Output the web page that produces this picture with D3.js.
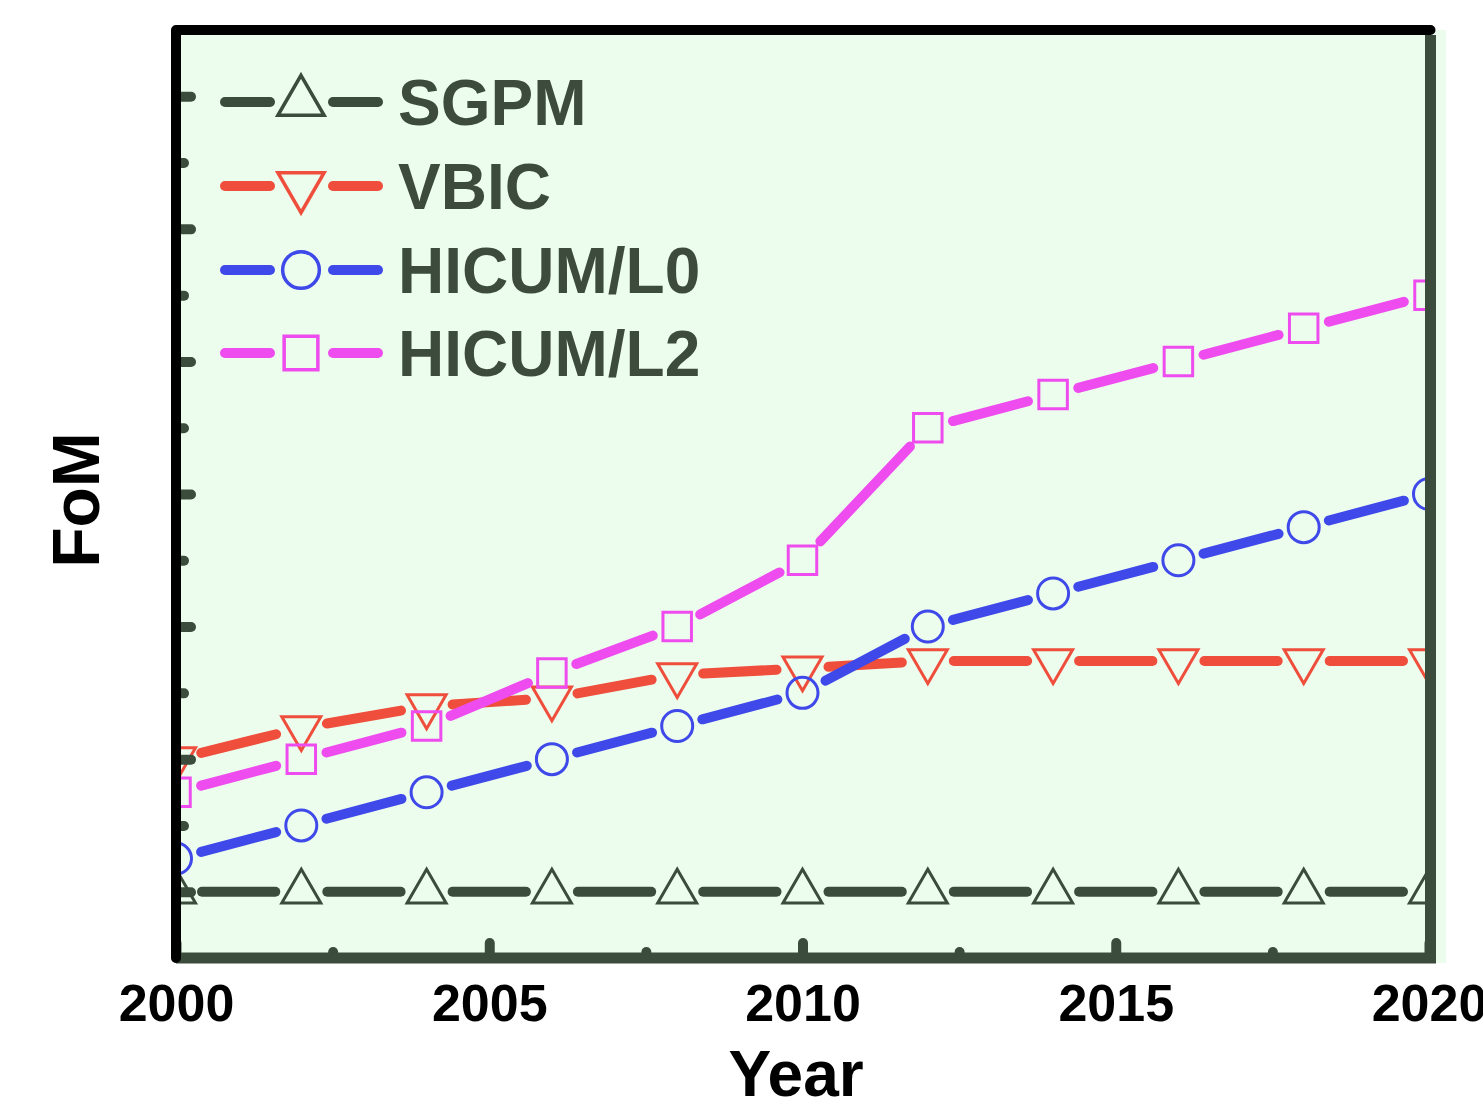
<!DOCTYPE html>
<html>
<head>
<meta charset="utf-8">
<script src="https://cdn.jsdelivr.net/npm/d3@7"></script>
<style>
  body { margin: 0; background: #fff; }
  text { font-family: "Liberation Sans", Arial, sans-serif; font-weight: bold; }
</style>
</head>
<body>
<div id="chart"></div>
<script>
// data (y in axis units, no labels shown)
const years    = [2000, 2002, 2004, 2006, 2008, 2010, 2012, 2014, 2016, 2018, 2020];
const sgpm     = [1, 1, 1, 1, 1, 1, 1, 1, 1, 1, 1];
const vbic     = [3.0, 3.47, 3.8, 3.92, 4.27, 4.37, 4.48, 4.48, 4.48, 4.48, 4.48];
const hicumL0  = [1.5, 2, 2.5, 3, 3.5, 4, 5, 5.5, 6, 6.5, 7];
const hicumL2  = [2.5, 3, 3.5, 4.3, 5, 6, 8, 8.5, 9, 9.5, 10];
const seriesNames = ["SGPM", "VBIC", "HICUM/L0", "HICUM/L2"];
const xTicks      = [2000, 2005, 2010, 2015, 2020];
const xMinorTicks = [2002.5, 2007.5, 2012.5, 2017.5];
const yMajorTicks = [1, 3, 5, 7, 9, 11, 13];
const yMinorTicks = [2, 4, 6, 8, 10, 12];

const series = [
  {name: seriesNames[0], values: sgpm,    color: "#3c4c3c", shape: "up"},
  {name: seriesNames[1], values: vbic,    color: "#ef4e3c", shape: "down"},
  {name: seriesNames[2], values: hicumL0, color: "#3f49ea", shape: "circle"},
  {name: seriesNames[3], values: hicumL2, color: "#ee4cee", shape: "square"}
];

const W = 1483, H = 1099;
const pLeft = 176, pRight = 1430, pTop = 30, pBottom = 958;
const frameGreen = "#3c4c3c";

const svg = d3.select("#chart").append("svg")
    .attr("width", W)
    .attr("height", H);

const x = d3.scaleLinear().domain([2000, 2020]).range([pLeft, 1429]);
const y = d3.scaleLinear().domain([0, 14]).range([pBottom, pTop]);

// marker path, sizes chosen to match the picture
function marker(shape, big) {
  const k = big ? 1.4 : 1;
  if (shape === "up" || shape === "down") return d3.symbol(d3.symbolTriangle, 660 * k)();
  if (shape === "circle") return d3.symbol(d3.symbolCircle, 755 * k)();
  return d3.symbol(d3.symbolSquare, 812 * k)();
}

// plot background
svg.append("rect")
    .attr("x", pLeft).attr("y", pTop)
    .attr("width", 1446 - pLeft).attr("height", 963 - pTop)
    .attr("fill", "#edfded");

svg.append("clipPath").attr("id", "clip")
  .append("rect")
    .attr("x", 171).attr("y", 35)
    .attr("width", pRight - 171).attr("height", pBottom - 35);

const plot = svg.append("g").attr("clip-path", "url(#clip)");

const gap = 26;
series.forEach(s => {
  const pts = years.map((yr, i) => [x(yr), y(s.values[i])]);
  const segs = d3.pairs(pts).map(([a, b]) => {
    const dx = b[0] - a[0], dy = b[1] - a[1];
    const len = Math.hypot(dx, dy);
    const ux = dx / len, uy = dy / len;
    return [[a[0] + ux * gap, a[1] + uy * gap], [b[0] - ux * gap, b[1] - uy * gap]];
  });
  plot.append("g").selectAll("line")
    .data(segs)
    .join("line")
      .attr("x1", d => d[0][0]).attr("y1", d => d[0][1])
      .attr("x2", d => d[1][0]).attr("y2", d => d[1][1])
      .attr("stroke", s.color)
      .attr("stroke-width", 10)
      .attr("stroke-linecap", "round");

  plot.append("g").selectAll("path")
    .data(pts)
    .join("path")
      .attr("d", marker(s.shape, false))
      .attr("transform", d => `translate(${d[0]},${d[1]})` + (s.shape === "down" ? " rotate(180)" : ""))
      .attr("fill", "none")
      .attr("stroke", s.color)
      .attr("stroke-width", 3);
});

// ticks pointing inward
function tickStyle(g) {
  g.select(".domain").remove();
  g.selectAll(".tick line")
    .attr("stroke", frameGreen)
    .attr("stroke-width", 10)
    .attr("stroke-linecap", "round");
}

svg.append("g")
    .attr("transform", `translate(0,${pBottom})`)
    .call(d3.axisBottom(x).tickValues(xMinorTicks).tickSize(-6).tickFormat(""))
    .call(tickStyle);

svg.append("g")
    .attr("transform", `translate(0,${pBottom})`)
    .call(d3.axisBottom(x).tickValues(xTicks).tickSize(-15).tickPadding(26).tickFormat(d3.format("d")))
    .call(tickStyle)
    .call(g => g.selectAll(".tick text")
      .attr("fill", "#000")
      .style("font-size", "52px"));

svg.append("g")
    .attr("transform", `translate(${pLeft},0)`)
    .call(d3.axisLeft(y).tickValues(yMinorTicks).tickSize(-8).tickFormat(""))
    .call(tickStyle);

svg.append("g")
    .attr("transform", `translate(${pLeft},0)`)
    .call(d3.axisLeft(y).tickValues(yMajorTicks).tickSize(-15).tickFormat(""))
    .call(tickStyle);

// frame: right and bottom dark green, left and top black
svg.append("path")
    .attr("d", `M${pRight + 0.5},35 V${pBottom} H${pLeft}`)
    .attr("fill", "none")
    .attr("stroke", frameGreen)
    .attr("stroke-width", 11);

svg.append("path")
    .attr("d", `M${pLeft},${pBottom} V${pTop} H${pRight + 0.5}`)
    .attr("fill", "none")
    .attr("stroke", "#000")
    .attr("stroke-width", 10)
    .attr("stroke-linejoin", "round")
    .attr("stroke-linecap", "round");

// legend
const legend = svg.append("g");
const rowY = [102, 186, 270, 353];
series.forEach((s, i) => {
  const g = legend.append("g").attr("transform", `translate(0,${rowY[i]})`);
  [[225, 270], [333, 378]].forEach(([a, b]) => {
    g.append("line")
      .attr("x1", a).attr("x2", b)
      .attr("stroke", s.color)
      .attr("stroke-width", 10)
      .attr("stroke-linecap", "round");
  });
  g.append("path")
    .attr("d", marker(s.shape, true))
    .attr("transform", "translate(301,0)" + (s.shape === "down" ? " rotate(180)" : ""))
    .attr("fill", "none")
    .attr("stroke", s.color)
    .attr("stroke-width", 3.5);
  g.append("text")
    .attr("x", 398)
    .attr("y", 23)
    .attr("fill", "#3c4b3c")
    .style("font-size", "64px")
    .text(s.name);
});

// axis titles
svg.append("text")
    .attr("x", 796)
    .attr("y", 1096)
    .attr("text-anchor", "middle")
    .attr("fill", "#000")
    .style("font-size", "64px")
    .text("Year");

svg.append("text")
    .attr("transform", "translate(99,500) rotate(-90)")
    .attr("text-anchor", "middle")
    .attr("fill", "#000")
    .style("font-size", "66px")
    .text("FoM");
</script>
</body>
</html>
